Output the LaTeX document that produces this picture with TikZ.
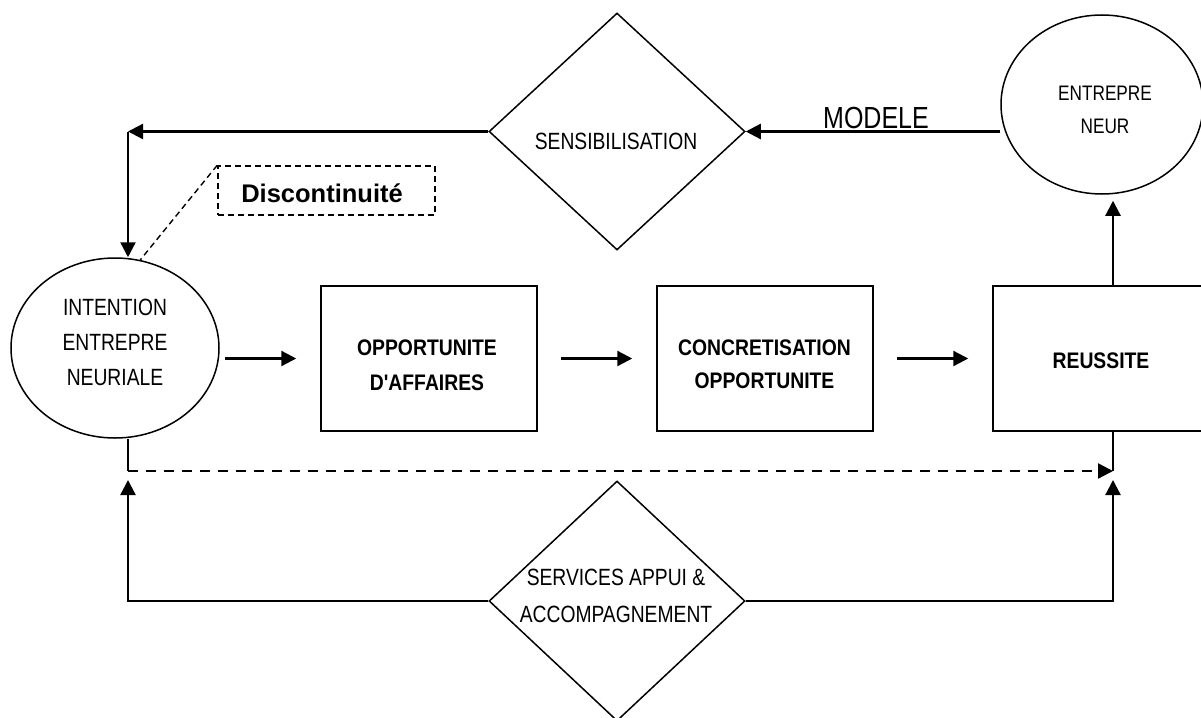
\documentclass[tikz,border=0pt]{standalone}
\usepackage{fontspec}
\setmainfont{Liberation Sans}
\newfontfamily\narrowf{Liberation Sans}[FakeStretch=0.82]
\newfontfamily\boldnarrowf{Liberation Sans}[FakeStretch=0.86]
\usetikzlibrary{shapes.geometric,arrows.meta}
\tikzset{
  ell/.style={draw, ellipse, line width=1.5pt, inner sep=0pt},
  boxnode/.style={draw, rectangle, line width=1.5pt, minimum width=216pt, minimum height=145pt, inner sep=0pt},
  diam/.style={draw, diamond, line width=1.5pt, minimum width=256pt, minimum height=237pt, inner sep=0pt},
  txt/.style={anchor=base, inner sep=0pt, font=\narrowf\fontsize{23.5}{28}\selectfont},
  smalltxt/.style={anchor=base, inner sep=0pt, font=\narrowf\fontsize{21}{25}\selectfont},
  bigtxt/.style={anchor=base, inner sep=0pt, font=\narrowf\fontsize{30.5}{36}\selectfont},
  btxt/.style={anchor=base, inner sep=0pt, font=\boldnarrowf\bfseries\fontsize{22.5}{27}\selectfont},
  disctxt/.style={anchor=base, inner sep=0pt, font=\bfseries\fontsize{25.5}{30}\selectfont},
  arr/.style={line width=2.3pt, -{Triangle[length=15pt,width=15pt]}},
  conn/.style={line width=2.3pt},
  dashbox/.style={draw, rectangle, line width=1.5pt, dash pattern=on 6pt off 4pt, minimum width=217pt, minimum height=49pt, inner sep=0pt},
  dashconn/.style={line width=1.4pt, dash pattern=on 6pt off 4pt},
  bigdash/.style={line width=2.3pt, dash pattern=on 10pt off 8pt, -{Triangle[length=15pt,width=15pt]}},
}
\begin{document}
\begin{tikzpicture}[x=1pt,y=-1pt]
\useasboundingbox[fill=white] (0,0) rectangle (1201,717);

% shapes
\node[ell, minimum width=208pt, minimum height=180pt] (intent) at (115,348) {};
\node[ell, minimum width=202pt, minimum height=179pt] (ent) at (1102,104.5) {};
\node[diam] (sens) at (617,131.5) {};
\node[diam, minimum height=240pt] (serv) at (617,601) {};
\node[boxnode] (opp) at (429,358.5) {};
\node[boxnode] (conc) at (765,358.5) {};
\node[boxnode] (reu) at (1101,358.5) {};
\node[dashbox] (disc) at (326.5,190.5) {};

% texts
\node[txt] (t1) at (115,315) {INTENTION};
\node[txt] (t2) at (115,350) {ENTREPRE};
\node[txt] (t3) at (115,385) {NEURIALE};
\node[smalltxt] (t4) at (1105,100) {ENTREPRE};
\node[smalltxt] (t5) at (1105,133) {NEUR};
\node[txt] (t6) at (616,149) {SENSIBILISATION};
\node[bigtxt] (t7) at (876,128) {MODELE};
\node[btxt] (t8) at (427,355) {OPPORTUNITE};
\node[btxt] (t9) at (427,390) {D'AFFAIRES};
\node[btxt] (t10) at (764.5,355) {CONCRETISATION};
\node[btxt] (t11) at (764.5,388) {OPPORTUNITE};
\node[btxt] (t12) at (1101,368) {REUSSITE};
\node[txt] (t13) at (616,585) {SERVICES APPUI \&};
\node[txt] (t14) at (616,622) {ACCOMPAGNEMENT};
\node[disctxt] (t15) at (322,202) {Discontinuité};

% coordinates
\coordinate (c1) at (128,131.5);
\coordinate (c2) at (128,471);
\coordinate (c3) at (1113,471);
\coordinate (c4) at (128,480);
\coordinate (c5) at (1113,480);

% connectors
\draw[arr] (sens.east -| ent.west) -- (sens.east);
\draw[arr] (sens.west) -- (c1);
\draw[arr] (c1) -- (c1 |- intent.north);
\draw[dashconn] (disc.north west) -- (intent.74);

\draw[arr, shorten <=5pt, shorten >=24pt] (intent.east |- opp.west) -- (opp.west);
\draw[arr, shorten <=23pt, shorten >=24pt] (opp.east) -- (conc.west);
\draw[arr, shorten <=23pt, shorten >=24pt] (conc.east) -- (reu.west);

\draw[arr, shorten >=6pt] (c5 |- reu.north) -- (c5 |- ent.south);

\draw[conn] (c1 |- intent.south) -- (c2);
\draw[bigdash] (c2) -- (c3);
\draw[conn] (c3 |- reu.south) -- (c3);

\draw[arr] (serv.west) -- (c4 |- serv.west) -- (c4);
\draw[arr] (serv.east) -- (c5 |- serv.east) -- (c5);
\end{tikzpicture}
\end{document}
